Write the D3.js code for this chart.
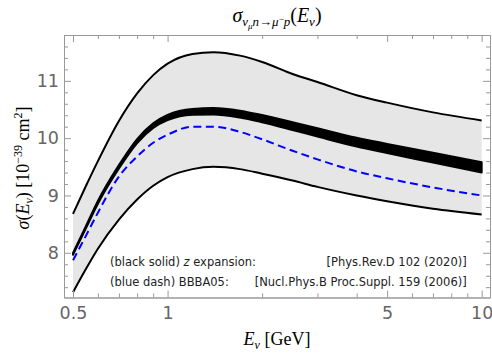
<!DOCTYPE html>
<html>
<head>
<meta charset="utf-8">
<script src="https://cdn.jsdelivr.net/npm/d3@7"></script>
<style>
  body { margin: 0; background: #fff; }
  svg { display: block; }
  .tick text { font-family: "DejaVu Sans", sans-serif; fill: #666; }
  .frame path.domain { stroke: #999; }
  .frame .tick line { stroke: #999; }
</style>
</head>
<body>
<svg id="chart" width="492" height="353"></svg>
<script>
// neutrino energy (GeV) sample points
const energy   = [0.5, 0.55, 0.6, 0.7, 0.8, 0.9, 1.0, 1.2, 1.4, 1.7, 2.0, 2.5, 3, 4, 5, 7, 10];
// z expansion error band (upper / lower edge), 10^-39 cm^2
const upper    = [8.68, 9.17, 9.60, 10.30, 10.78, 11.10, 11.30, 11.47, 11.50, 11.44, 11.33, 11.12, 10.98, 10.75, 10.62, 10.45, 10.31];
const lower    = [7.31, 7.72, 8.07, 8.58, 8.93, 9.17, 9.32, 9.46, 9.50, 9.46, 9.38, 9.26, 9.15, 9.00, 8.90, 8.77, 8.67];
// z expansion central curve and its half width
const central  = [7.98, 8.45, 8.88, 9.50, 9.95, 10.22, 10.36, 10.46, 10.47, 10.42, 10.34, 10.21, 10.10, 9.93, 9.82, 9.66, 9.49];
const halfw    = [0.015, 0.02, 0.025, 0.03, 0.035, 0.04, 0.045, 0.05, 0.055, 0.06, 0.063, 0.068, 0.072, 0.077, 0.08, 0.085, 0.09];
// BBBA05
const bbba     = [7.87, 8.30, 8.70, 9.33, 9.68, 9.92, 10.06, 10.20, 10.20, 10.11, 9.98, 9.78, 9.63, 9.42, 9.30, 9.14, 9.00];

const xTicks = [0.5, 1, 5, 10];
const xMinor = [0.6, 0.7, 0.8, 0.9, 2, 3, 4, 6, 7, 8, 9];
const yTicks = [8, 9, 10, 11];
const yMinor = [7.4, 7.6, 7.8, 8.2, 8.4, 8.6, 8.8, 9.2, 9.4, 9.6, 9.8, 10.2, 10.4, 10.6, 10.8, 11.2, 11.4, 11.6, 11.8];

const margin = {top: 35, right: 2, bottom: 55.5, left: 64};
const width = 492 - margin.left - margin.right,
    height = 353 - margin.top - margin.bottom;

const svg = d3.select("#chart");
const g = svg.append("g")
    .attr("transform", "translate(" + margin.left + "," + margin.top + ")");

var x = d3.scaleLog().domain([0.468, 10.63]).range([0, width]);
var y = d3.scaleLinear().domain([7.22, 11.80]).range([height, 0]);

const rows = energy.map(function(e, i) {
    return {e: e, up: upper[i], lo: lower[i], c: central[i], h: halfw[i], b: bbba[i]};
});

// gray band
g.append("path")
    .datum(rows)
    .attr("fill", "#e6e6e6")
    .attr("d", d3.area()
        .curve(d3.curveMonotoneX)
        .x(function(d) { return x(d.e); })
        .y0(function(d) { return y(d.lo); })
        .y1(function(d) { return y(d.up); }));

const line = function(key) {
    return d3.line()
        .curve(d3.curveMonotoneX)
        .x(function(d) { return x(d.e); })
        .y(function(d) { return y(d[key]); });
};

["up", "lo"].forEach(function(k) {
    g.append("path")
        .datum(rows)
        .attr("fill", "none")
        .attr("stroke", "#000")
        .attr("stroke-width", 2)
        .attr("d", line(k));
});

// thick central band
g.append("path")
    .datum(rows)
    .attr("fill", "#000")
    .attr("stroke", "#000")
    .attr("stroke-width", 2)
    .attr("stroke-linejoin", "round")
    .attr("d", d3.area()
        .curve(d3.curveMonotoneX)
        .x(function(d) { return x(d.e); })
        .y0(function(d) { return y(d.c - d.h); })
        .y1(function(d) { return y(d.c + d.h); }));

// BBBA05 dashed
g.append("path")
    .datum(rows)
    .attr("fill", "none")
    .attr("stroke", "#0000ff")
    .attr("stroke-width", 2)
    .attr("stroke-dasharray", "8,4.5")
    .attr("d", line("b"));

// frame axes, ticks pointing inside
function frameAxis(axis, tr, vals, size, labels) {
    const a = g.append("g")
        .attr("class", "frame")
        .attr("transform", tr)
        .call(axis.tickValues(vals).tickSize(size).tickSizeOuter(0)
            .tickFormat(labels ? d3.format("") : ""));
    return a;
}

frameAxis(d3.axisBottom(x).tickPadding(9), "translate(0," + height + ")", xTicks, -7, true)
    .selectAll("text").style("font-size", "17.5px");
frameAxis(d3.axisBottom(x), "translate(0," + height + ")", xMinor, -4, false);
frameAxis(d3.axisTop(x), "translate(0,0)", xTicks, -7, false);
frameAxis(d3.axisTop(x), "translate(0,0)", xMinor, -4, false);

frameAxis(d3.axisLeft(y).tickPadding(5), "translate(0,0)", yTicks, -7, true)
    .selectAll("text").style("font-size", "17.5px");
frameAxis(d3.axisLeft(y), "translate(0,0)", yMinor, -4, false);
frameAxis(d3.axisRight(y), "translate(" + width + ",0)", yTicks, -7, false);
frameAxis(d3.axisRight(y), "translate(" + width + ",0)", yMinor, -4, false);

// legend text
const leg = g.append("g")
    .style("font-family", "'DejaVu Sans', sans-serif")
    .style("font-size", "11.5px")
    .attr("fill", "#222");

const l1 = leg.append("text").attr("x", 46).attr("y", 231);
l1.append("tspan").text("(black solid) ");
l1.append("tspan").style("font-style", "italic").text("z");
l1.append("tspan").text(" expansion:");
leg.append("text").attr("x", 402.7).attr("y", 231).attr("text-anchor", "end")
    .text("[Phys.Rev.D 102 (2020)]");

leg.append("text").attr("x", 46).attr("y", 251).text("(blue dash) BBBA05:");
leg.append("text").attr("x", 402.7).attr("y", 251).attr("text-anchor", "end")
    .text("[Nucl.Phys.B Proc.Suppl. 159 (2006)]");

// title
const serif = "'Liberation Serif', 'Times New Roman', serif";
const title = svg.append("text")
    .attr("x", 277).attr("y", 22)
    .attr("text-anchor", "middle")
    .style("font-family", serif)
    .style("font-size", "20px")
    .attr("fill", "#000");
title.append("tspan").style("font-style", "italic").text("σ");
title.append("tspan").attr("dy", 4).style("font-size", "13px").style("font-style", "italic").text("ν");
title.append("tspan").attr("dy", 3).style("font-size", "9px").style("font-style", "italic").text("μ");
title.append("tspan").attr("dy", -3).style("font-size", "13px").style("font-style", "italic").text("n");
title.append("tspan").style("font-size", "13px").text("→");
title.append("tspan").style("font-size", "13px").style("font-style", "italic").text("μ");
title.append("tspan").attr("dy", -4).style("font-size", "9px").text("−");
title.append("tspan").attr("dy", 4).style("font-size", "13px").style("font-style", "italic").text("p");
title.append("tspan").attr("dy", -4).text("(");
title.append("tspan").style("font-style", "italic").text("E");
title.append("tspan").attr("dy", 4).style("font-size", "13px").style("font-style", "italic").text("ν");
title.append("tspan").attr("dy", -4).text(")");

// x label
const xl = svg.append("text")
    .attr("x", 277).attr("y", 345)
    .attr("text-anchor", "middle")
    .style("font-family", serif)
    .style("font-size", "18px");
xl.append("tspan").style("font-style", "italic").text("E");
xl.append("tspan").attr("dy", 4).style("font-size", "12px").style("font-style", "italic").text("ν");
xl.append("tspan").attr("dy", -4).text(" [GeV]");

// y label
const yl = svg.append("text")
    .attr("transform", "translate(29,168) rotate(-90)")
    .attr("text-anchor", "middle")
    .style("font-family", serif)
    .style("font-size", "18px");
yl.append("tspan").style("font-style", "italic").text("σ");
yl.append("tspan").text("(");
yl.append("tspan").style("font-style", "italic").text("E");
yl.append("tspan").attr("dy", 4).style("font-size", "12px").style("font-style", "italic").text("ν");
yl.append("tspan").attr("dy", -4).text(") [10");
yl.append("tspan").attr("dy", -7).style("font-size", "12px").text("−39");
yl.append("tspan").attr("dy", 7).text(" cm");
yl.append("tspan").attr("dy", -7).style("font-size", "12px").text("2");
yl.append("tspan").attr("dy", 7).text("]");
</script>
</body>
</html>
